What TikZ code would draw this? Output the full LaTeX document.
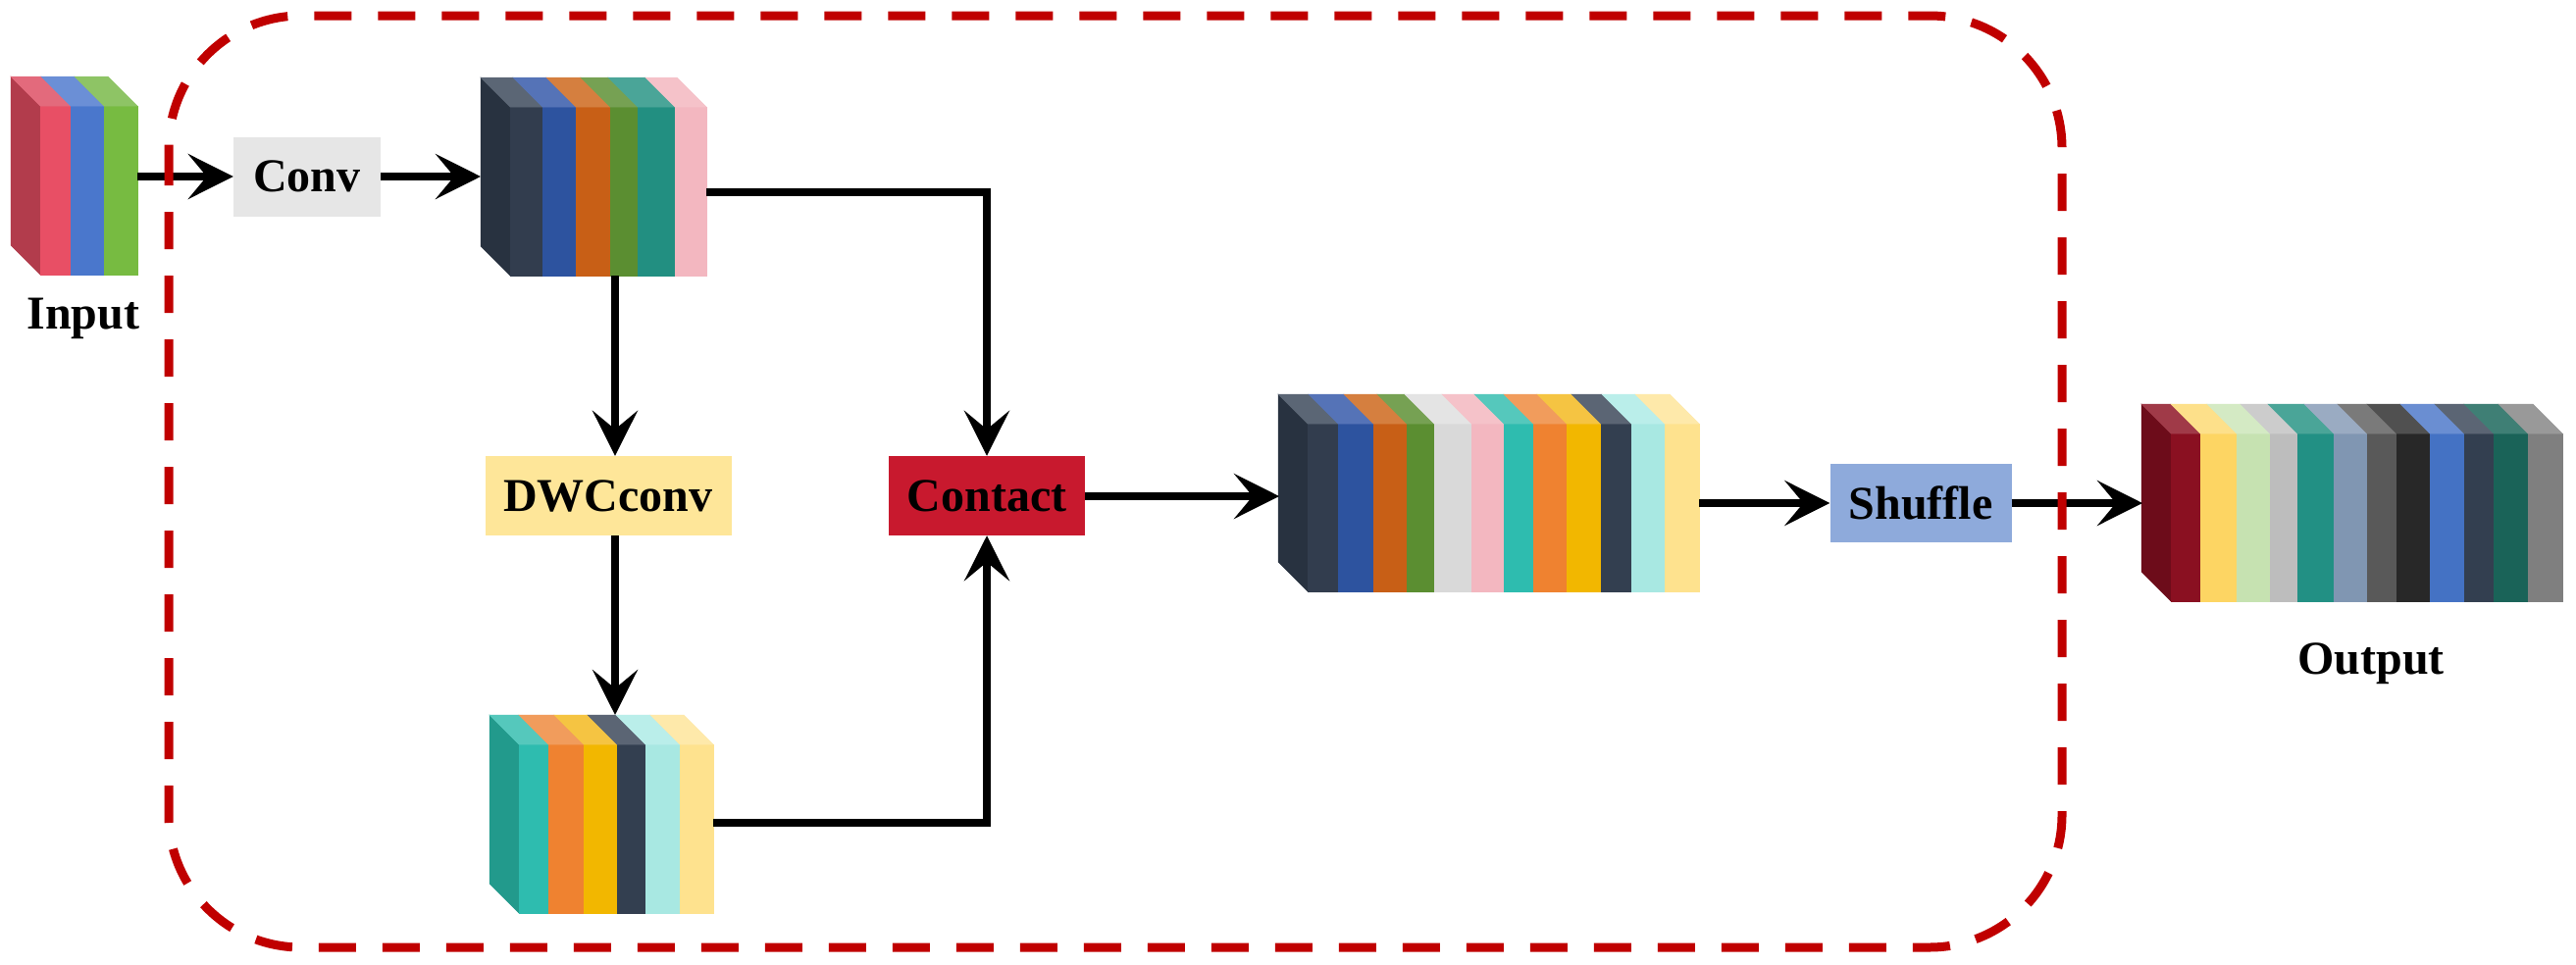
\documentclass[tikz,border=0pt]{standalone}
\usepackage{fontspec}
\setmainfont{Liberation Serif}
\usetikzlibrary{arrows.meta}
\definecolor{convgrey}{HTML}{E6E6E6}
\definecolor{dwcyellow}{HTML}{FEE699}
\definecolor{contactred}{HTML}{C8192E}
\definecolor{shuffleblue}{HTML}{8EAADB}
\definecolor{borderred}{HTML}{C00000}
\tikzset{
  arr/.style={line width=8.5pt, -{Stealth[length=46pt,width=46pt,inset=19pt]}},
  opbox/.style={inner sep=0pt, minimum height=81pt, font=\bfseries\fontsize{48}{56}\selectfont},
  lbl/.style={inner sep=0pt, anchor=base, font=\bfseries\fontsize{48}{56}\selectfont},
  frame/.style={draw=borderred, line width=9pt, dash pattern=on 38pt off 27pt, rounded corners=135pt}
}
% #1 top y, #2 bottom y, #3 side colour, #4 list xa/xb/front/top
\newcommand{\featblock}[4]{%
  \definecolor{sidec}{HTML}{#3}%
  \foreach \xa/\xb/\fc/\tc [count=\i] in {#4}{%
    \definecolor{cf}{HTML}{\fc}\definecolor{ct}{HTML}{\tc}%
    \ifnum\i=1
      \filldraw[fill=sidec,draw=sidec,line width=0.5pt] (\xa-30,#1) -- (\xa,#1+30) -- (\xa,#2) -- (\xa-30,#2-30) -- cycle;
    \fi
    \filldraw[fill=cf,draw=cf,line width=0.5pt] (\xa,#1+30) rectangle (\xb,#2);
    \filldraw[fill=ct,draw=ct,line width=0.5pt] (\xa,#1+30) -- (\xb,#1+30) -- (\xb-30,#1) -- (\xa-30,#1) -- cycle;
  }}
\begin{document}
\begin{tikzpicture}[x=1pt,y=-1pt]
\useasboundingbox (0,0) rectangle (2626,983);
\fill[white] (0,0) rectangle (2626,983);

% feature blocks
\featblock{78}{280}{B23C4C}{41/72/E84F65/E36A7C, 72/106/4A77CC/6B8FD6, 106/140/77BB41/8EC465}
\featblock{79}{281}{283240}{520/553/323D4E/5B6675, 553/587/2D539F/5573B7, 587/622/C85F16/D57F3F, 622/650/5B8E31/76A153, 650/688/228F81/4AA598, 688/720/F3B7C0/F5C2C9}
\featblock{729}{931}{229A8C}{529/559/2EBCAF/55C8BC, 559/595/EF8230/F19C5C, 595/629/F2B700/F5C442, 629/658/333F50/5B6574, 658/693/A8E8E2/BAEEEA, 693/727/FEE28E/FEE9AA}
\featblock{402}{603}{283240}{1333/1364/323D4E/5B6675, 1364/1400/2D539F/5573B7, 1400/1434/C85F16/D57F3F, 1434/1462/5B8E31/76A153, 1462/1500/D9D9D9/E4E4E4, 1500/1533/F3B7C0/F5C2C9, 1533/1563/2EBCAF/55C8BC, 1563/1597/EF8230/F19C5C, 1597/1632/F2B700/F5C442, 1632/1663/333F50/5B6574, 1663/1697/A8E8E2/BAEEEA, 1697/1732/FEE28E/FEE9AA}
\featblock{412}{613}{6D0C1A}{2213/2243/8A1021/A03A48, 2243/2280/FDD563/FDE08A, 2280/2314/C6E2B1/D4EAC4, 2314/2342/BDBDBD/CCCCCC, 2342/2379/229084/4AA598, 2379/2413/8096B2/9AABC2, 2413/2443/595959/7A7A7A, 2443/2477/282828/505050, 2477/2512/4472C4/6A8ED2, 2512/2542/333F50/5B6574, 2542/2577/1A6358/3F7F75, 2577/2612/7F7F7F/999999}

% labels
\node[lbl] (inlbl) at (85,335) {Input};
\node[lbl] (outlbl) at (2417,687) {Output};

% operation boxes
\node[opbox, fill=convgrey, minimum width=150pt] (conv) at (313,180) {Conv};
\node[opbox, fill=dwcyellow, minimum width=251pt] (dwc) at (620,505.5) {DWCconv};
\node[opbox, fill=contactred, minimum width=200pt] (contact) at (1006,505.5) {Contact};
\node[opbox, fill=shuffleblue, minimum width=185pt, minimum height=80pt] (shuffle) at (1958,513) {Shuffle};

% connector end points on the blocks
\coordinate (inR) at (140,180);
\coordinate (b1L) at (490,180);
\coordinate (b1B) at (627,281);
\coordinate (b1R) at (720,196);
\coordinate (dwoT) at (627,729);
\coordinate (dwoR) at (727,839);
\coordinate (catL) at (1304,506);
\coordinate (catR) at (1732,513);
\coordinate (outL) at (2184,513);

% connectors
\draw[arr] (inR) -- (conv.west);
\draw[arr] (conv.east) -- (b1L);
\draw[arr] (b1B) -- (b1B |- dwc.north);
\draw[arr] (b1B |- dwc.south) -- (dwoT);
\draw[arr] (b1R) -| (contact.north);
\draw[arr] (dwoR) -| (contact.south);
\draw[arr] (contact.east |- catL) -- (catL);
\draw[arr] (catR) -- (shuffle.west);
\draw[arr] (shuffle.east) -- (outL);

% dashed frame
\draw[frame] (172,16) rectangle (2102,966);
\end{tikzpicture}
\end{document}
